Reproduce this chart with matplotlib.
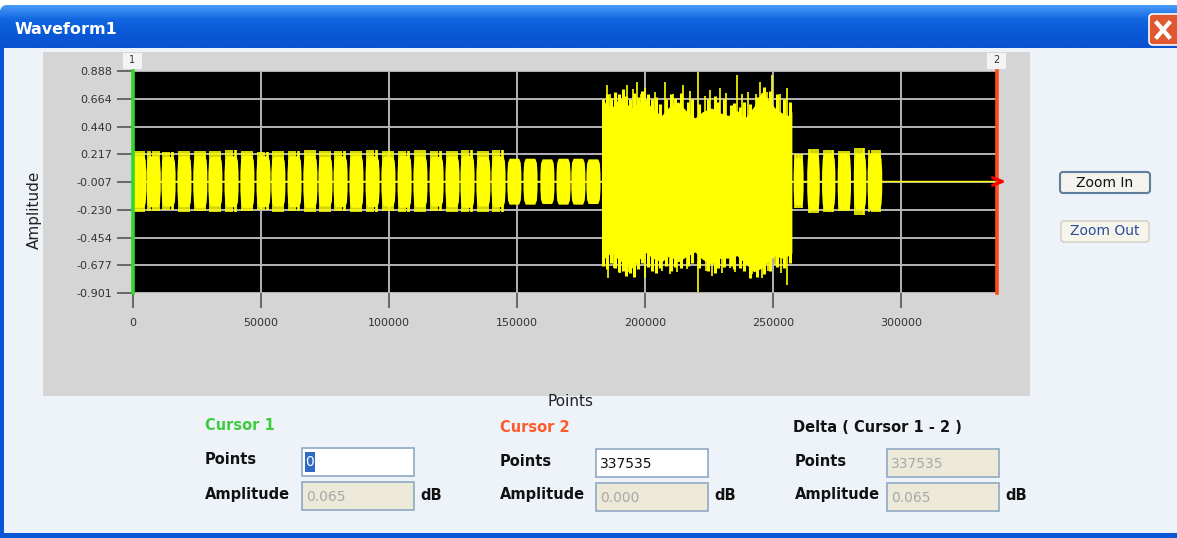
import matplotlib.pyplot as plt
import numpy as np
from matplotlib.colors import LinearSegmentedColormap
from matplotlib.patches import FancyBboxPatch, Rectangle

W, H = 1177, 538

# axis values as the scope prints them
y_ticks = [0.888, 0.664, 0.440, 0.217, -0.007, -0.230, -0.454, -0.677, -0.901]
y_labels = ["0.888", "0.664", "0.440", "0.217", "-0.007", "-0.230", "-0.454", "-0.677", "-0.901"]
x_ticks = [0, 50000, 100000, 150000, 200000, 250000, 300000]
n_points = 337535

# first part: short bursts (centre, body amplitude, needle amplitude, 0 = no needles)
quiet_centers = [2300, 7900, 13700, 19900, 26100, 32000, 38300, 44500, 50800, 56600,
                 62900, 69100, 75000, 80900, 87100, 93400, 99600, 105900, 112100, 118400,
                 124600, 130500, 136700, 142600, 148800, 155100, 161700, 168000, 173800, 179700]
quiet_body = [0.21, 0.205, 0.2, 0.205, 0.21, 0.2, 0.205, 0.21, 0.205, 0.2,
              0.205, 0.21, 0.2, 0.205, 0.21, 0.205, 0.2, 0.21, 0.205, 0.2,
              0.205, 0.21, 0.2, 0.205, 0.185, 0.185, 0.18, 0.185, 0.185, 0.18]
quiet_needle = [0.245, 0.24, 0.235, 0.245, 0.24, 0.245, 0.25, 0.24, 0.235, 0.245,
                0.24, 0.25, 0.245, 0.24, 0.245, 0.25, 0.24, 0.245, 0.25, 0.24,
                0.245, 0.25, 0.245, 0.25, 0, 0, 0, 0, 0, 0]
quiet_half = 2750

# loud part: envelope of the solid body
loud_x = [183200, 184500, 187000, 189500, 190900, 193000, 194800, 197500, 200000, 203000,
          206500, 209500, 213000, 216000, 219500, 222500, 226000, 229500, 232600, 236000,
          239100, 242500, 245600, 248000, 250800, 253500, 256000, 257400]
loud_top = [0.58, 0.64, 0.59, 0.66, 0.67, 0.62, 0.59, 0.63, 0.67, 0.58,
            0.53, 0.60, 0.64, 0.57, 0.51, 0.56, 0.59, 0.55, 0.53, 0.57,
            0.51, 0.60, 0.72, 0.66, 0.59, 0.55, 0.53, 0.56]
loud_bottom = [-0.60, -0.62, -0.57, -0.63, -0.65, -0.68, -0.70, -0.64, -0.57, -0.62,
               -0.65, -0.60, -0.65, -0.61, -0.57, -0.63, -0.67, -0.62, -0.62, -0.60,
               -0.66, -0.73, -0.70, -0.65, -0.60, -0.62, -0.60, -0.58]
# loud part: ragged fringe just outside the body
fringe_x = [183800, 185300, 186600, 188200, 189900, 191300, 192600, 194100, 195900, 197300,
            198800, 201200, 202600, 204500, 205900, 208300, 210200, 211800, 214200, 216900,
            218300, 221200, 224600, 227200, 228400, 230800, 233700, 234600, 237200, 238700,
            241200, 243800, 246500, 248700, 251700, 254300, 256600]
fringe_top = [0.66, 0.70, 0.67, 0.72, 0.70, 0.74, 0.69, 0.66, 0.71, 0.68,
              0.73, 0.70, 0.66, 0.68, 0.62, 0.66, 0.70, 0.67, 0.71, 0.64,
              0.66, 0.62, 0.66, 0.69, 0.64, 0.66, 0.61, 0.63, 0.60, 0.64,
              0.62, 0.68, 0.76, 0.73, 0.70, 0.66, 0.64]
fringe_bottom = [-0.68, -0.71, -0.66, -0.70, -0.73, -0.72, -0.76, -0.74, -0.77, -0.71,
                 -0.66, -0.69, -0.72, -0.74, -0.70, -0.68, -0.72, -0.69, -0.70, -0.68,
                 -0.66, -0.70, -0.72, -0.74, -0.70, -0.69, -0.68, -0.71, -0.70, -0.72,
                 -0.78, -0.77, -0.75, -0.72, -0.69, -0.70, -0.66]
# loud part: single peaks sticking out of the body
peak_up_x = [185000, 186200, 188900, 191500, 192800, 195400, 196800, 198600, 200000, 203800,
             207800, 210900, 215000, 217600, 220600, 223400, 225400, 229300, 231500, 235800,
             238000, 240400, 243200, 244900, 247500, 249500, 252700, 255300]
peak_up = [0.775, 0.70, 0.64, 0.72, 0.775, 0.74, 0.80, 0.70, 0.75, 0.72,
           0.80, 0.70, 0.775, 0.73, 0.88, 0.69, 0.735, 0.75, 0.71, 0.855,
           0.70, 0.72, 0.70, 0.80, 0.72, 0.855, 0.70, 0.75]
peak_down_x = [185700, 188000, 190300, 193500, 196000, 200000, 203200, 206800, 209700, 212400,
               216300, 220600, 224000, 226000, 230000, 233100, 235200, 238600, 242000, 245600,
               248200, 250800, 253000, 255300]
peak_down = [-0.78, -0.70, -0.74, -0.73, -0.76, -0.78, -0.70, -0.72, -0.75, -0.73,
             -0.71, -0.89, -0.72, -0.76, -0.74, -0.70, -0.73, -0.71, -0.75, -0.78,
             -0.72, -0.675, -0.74, -0.84]

# last part: a few bursts, then silence
tail_left = [257900, 263200, 269000, 275100, 281400, 286800]
tail_right = [261800, 268100, 274200, 280300, 286300, 292500]
tail_body = [0.19, 0.225, 0.22, 0.225, 0.22, 0.225]
tail_needle = [0.22, 0.26, 0.25, 0.24, 0.27, 0.25]
silence_start = 292500

YELLOW = "#FFFF00"
GREEN = "#2FD82F"
ORANGE = "#FF4A1A"

# burst outline, relative to the burst half width
shape_x = np.array([-1, -0.9, -0.68, 0.68, 0.9, 1])
shape_y = np.array([0.35, 0.82, 1, 1, 0.82, 0.35])
needle_offsets = np.array([-0.7, -0.4, -0.1, 0.2, 0.5, 0.75])


def px(l, t, r, b):
    return [l / W, 1 - b / H, (r - l) / W, (b - t) / H]


def burst(ax, c, half, body, needle):
    xs = c + shape_x * half
    ax.fill_between(xs, -body * shape_y, body * shape_y, color=YELLOW, lw=0, zorder=2)
    if needle:
        ax.vlines(c + needle_offsets * half, -needle, needle, color=YELLOW, lw=1.2, zorder=2)


fig = plt.figure(figsize=(W / 100, H / 100), dpi=100)
fig.patch.set_facecolor("white")

# window chrome, drawn in pixel units
bg = fig.add_axes([0, 0, 1, 1], zorder=0)
bg.set_xlim(0, W)
bg.set_ylim(H, 0)
bg.axis("off")

frame = FancyBboxPatch((0, 5), W + 30, H + 30, boxstyle="round,pad=0,rounding_size=8",
                       fc="#0A56D4", ec="none")
bg.add_patch(frame)
title_cmap = LinearSegmentedColormap.from_list("xp", ["#4A9AFA", "#1166E0", "#0A58D6", "#0A52CE"])
img = bg.imshow(np.linspace(0, 1, 60)[:, None], extent=(0, W, 48, 5), cmap=title_cmap,
                aspect="auto", zorder=1)
img.set_clip_path(frame)
bg.add_patch(Rectangle((4, 48), W, 485, fc="#EEF3FA", ec="none", zorder=2))
bg.text(15, 30, "Waveform1", color="white", fontsize=11.5, fontweight="bold", va="center", zorder=3)

# close button
bg.add_patch(FancyBboxPatch((1149, 14), 40, 31, boxstyle="round,pad=0,rounding_size=4",
                            fc="#E0582F", ec="white", lw=1.2, zorder=3))
bg.plot([1157, 1169], [23, 37], color="white", lw=3, zorder=4)
bg.plot([1157, 1169], [37, 23], color="white", lw=3, zorder=4)

# grey chart panel and cursor tags
bg.add_patch(Rectangle((43, 52), 987, 344, fc="#D5D5D5", ec="none", zorder=3))
for x0, tag in [(123, "1"), (987, "2")]:
    bg.add_patch(Rectangle((x0, 53), 19, 16, fc="#F4F4F4", ec="none", zorder=4))
    bg.text(x0 + 9.5, 60, tag, fontsize=7, ha="center", va="center", color="#333333", zorder=5)

# zoom buttons
bg.add_patch(FancyBboxPatch((1060, 172), 90, 21, boxstyle="round,pad=0,rounding_size=3",
                            fc="#F4F3EE", ec="#5F7F9F", lw=1.5, zorder=3))
bg.text(1105, 183, "Zoom In", fontsize=10, ha="center", va="center", color="#111111", zorder=4)
bg.add_patch(FancyBboxPatch((1061, 221), 88, 21, boxstyle="round,pad=0,rounding_size=3",
                            fc="#F6F5EC", ec="#D6D3C6", lw=1.2, zorder=3))
bg.text(1105, 231, "Zoom Out", fontsize=10, ha="center", va="center", color="#2C4C9C", zorder=4)

# cursor read-out panel
bold = dict(fontsize=10.5, fontweight="bold", va="center", zorder=4)
bg.text(205, 425, "Cursor 1", color="#3DCB3D", **bold)
bg.text(500, 427, "Cursor 2", color="#FF5A28", **bold)
bg.text(793, 427, "Delta ( Cursor 1 - 2 )", color="#111111", **bold)

fields = [
    (205, 302, 448, "0", "white"),
    (205, 302, 482, "0.065", "#ECE9D8"),
    (500, 596, 449, "337535", "white"),
    (500, 596, 483, "0.000", "#ECE9D8"),
    (795, 887, 449, "337535", "#ECE9D8"),
    (795, 887, 483, "0.065", "#ECE9D8"),
]
for i, (lx, bx, by, value, face) in enumerate(fields):
    is_amp = i % 2 == 1
    bg.text(lx, by + 12, "Amplitude" if is_amp else "Points", color="#111111", **bold)
    bg.add_patch(Rectangle((bx, by), 112, 28, fc=face, ec="#8FA9C4", lw=1.2, zorder=4))
    if is_amp:
        bg.text(bx + 118, by + 13, "dB", color="#111111", **bold)
    if i == 0:
        bg.add_patch(Rectangle((bx + 3, by + 4), 10, 20, fc="#316AC5", ec="none", zorder=5))
        bg.text(bx + 8, by + 14, value, fontsize=10, ha="center", va="center", color="white", zorder=6)
    else:
        color = "#111111" if face == "white" else "#A8A8A8"
        bg.text(bx + 4, by + 15, value, fontsize=10, va="center", color=color, zorder=5)

# waveform plot
ax = fig.add_axes(px(133, 71, 997, 293), zorder=1)
ax.set_facecolor("black")
ax.set_xlim(0, n_points)
ax.set_ylim(y_ticks[-1], y_ticks[0])
ax.set_axisbelow(True)
ax.grid(True, color="#B4B4B4", lw=1.4)
for s in ax.spines.values():
    s.set_visible(False)

ax.plot([0, silence_start], [0, 0], color=YELLOW, lw=1, zorder=2)
for c, body, needle in zip(quiet_centers, quiet_body, quiet_needle):
    burst(ax, c, quiet_half, body, needle)

ax.fill_between(loud_x, loud_bottom, loud_top, color=YELLOW, lw=0, zorder=2)
ax.vlines(fringe_x, fringe_bottom, fringe_top, color=YELLOW, lw=2.2, zorder=2)
ax.vlines(peak_up_x, 0, peak_up, color=YELLOW, lw=1.2, zorder=2)
ax.vlines(peak_down_x, peak_down, 0, color=YELLOW, lw=1.2, zorder=2)

for l, r, body, needle in zip(tail_left, tail_right, tail_body, tail_needle):
    burst(ax, (l + r) / 2, (r - l) / 2, body, needle)
ax.plot([silence_start, n_points], [0, 0], color=YELLOW, lw=1, zorder=2)
ax.plot(n_points, 0, marker="$>$", color="red", ms=8, clip_on=False, zorder=5)

# cursors
ax.axvline(0, color=GREEN, lw=2.6, zorder=4, clip_on=False)
ax.axvline(n_points, color=ORANGE, lw=2.6, zorder=4, clip_on=False)

ax.set_xticks(x_ticks)
ax.set_xticklabels([str(v) for v in x_ticks])
ax.set_yticks(y_ticks)
ax.set_yticklabels(y_labels)
ax.tick_params(axis="x", length=11, width=1.2, color="#555555", pad=7, labelsize=8, labelcolor="#333333")
ax.tick_params(axis="y", length=11.5, width=1.2, color="#555555", pad=3.5, labelsize=8, labelcolor="#333333")

ax.set_xlabel("Points", fontsize=11, color="#222222", va="top")
ax.xaxis.set_label_coords(0.506, -0.455)
ax.set_ylabel("Amplitude", fontsize=11, color="#222222")
ax.yaxis.set_label_coords(-0.106, 0.374)

fig.savefig("out.png", dpi=100, facecolor=fig.get_facecolor())
